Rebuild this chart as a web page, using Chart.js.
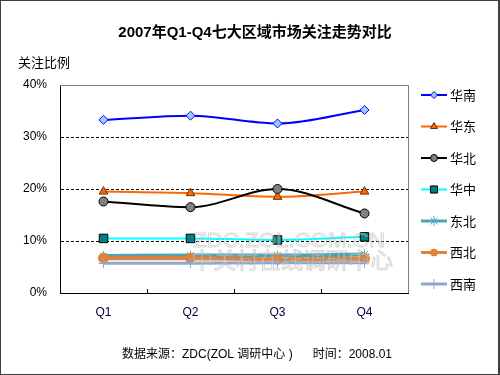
<!DOCTYPE html>
<html><head><meta charset="utf-8">
<script src="https://cdn.jsdelivr.net/npm/chart.js@4/dist/chart.umd.min.js"></script>
<style>html,body{margin:0;padding:0;background:#fff}#wrap{width:500px;height:375px;position:relative}</style>
</head><body><div id="wrap"><canvas id="c" width="500" height="375"></canvas></div>
<script>
const categories = ['Q1','Q2','Q3','Q4'];
const seriesNames = ['华南','华东','华北','华中','东北','西北','西南'];
const huanan = [33.3, 34.1, 32.6, 35.2];
const huadong = [19.5, 19.2, 18.5, 19.5];
const huabei = [17.6, 16.5, 20.0, 15.3];
const huazhong = [10.5, 10.5, 10.2, 10.8];
const dongbei = [7.1, 7.2, 7.2, 7.4];
const xibei = [6.7, 6.7, 6.5, 6.6];
const xinan = [5.7, 5.7, 5.8, 5.8];
const yTicks = [0, 10, 20, 30, 40];
const titleText = '2007年Q1-Q4七大区域市场关注走势对比';
const yTitle = '关注比例';
const footText = '数据来源：ZDC(ZOL 调研中心 )      时间：2008.01';
const watermark1 = 'ZDC.ZOL.COM.CN';
const watermark2 = '中关村在线调研中心';

const FONT = '"Liberation Sans", Arial, "Noto Sans CJK SC", sans-serif';
const styles = [
  {line:'#0000FF', w:2, pt:'rectRot', fill:'#99CCFF', border:'#0000FF', r:4.5, lr:3.5, lw:2},
  {line:'#FF6600', w:2, pt:'triangle', fill:'#FF6600', border:'#663300', r:5, lr:4, lw:2},
  {line:'#000000', w:2, pt:'circle', fill:'#808080', border:'#000000', r:4.5, lr:3.5, lw:2},
  {line:'#00FFFF', w:2, pt:'rect', fill:'#008080', border:'#000000', r:6, lr:5, lw:2},
  {line:'#4BA3B8', w:4, pt:'star', fill:'#4BACC6', border:'#4BACC6', r:5, lr:5, lw:3},
  {line:'#E0823A', w:4, pt:'circle', fill:'#E0823A', border:'#E0823A', r:5, lr:3.5, lw:3},
  {line:'#8EA9D0', w:3, pt:'cross', fill:'#8EA9D0', border:'#8EA9D0', r:5, lr:5, lw:3}
];
const values = [huanan, huadong, huabei, huazhong, dongbei, xibei, xinan];
const datasets = seriesNames.map((n,i)=>({
  label:n, data:values[i], borderColor:styles[i].line, borderWidth:styles[i].w,
  pointStyle:styles[i].pt, pointBackgroundColor:styles[i].fill, pointBorderColor:styles[i].border,
  pointBorderWidth:1, pointRadius:styles[i].r, pointHoverRadius:styles[i].r,
  cubicInterpolationMode:'monotone', fill:false, order: 10-i
}));

const deco = {
  id:'deco',
  afterDatasetsDraw(chart){
    const ctx = chart.ctx;
    ctx.save();
    ctx.setLineDash([]);
    ctx.lineWidth = 1;
    ctx.fillStyle = 'rgba(255,255,255,0.3)';
    ctx.strokeStyle = 'rgba(150,150,150,0.4)';
    ctx.textAlign = 'left'; ctx.textBaseline = 'middle';
    ctx.font = '22px "Liberation Sans", Arial, sans-serif';
    const w1 = ctx.measureText(watermark1).width;
    ctx.save(); ctx.translate(193, 241); ctx.scale(192 / w1, 0.95);
    ctx.fillText(watermark1, 0, 0); ctx.strokeText(watermark1, 0, 0); ctx.restore();
    ctx.font = '22px "Noto Sans CJK SC", sans-serif';
    const w2 = ctx.measureText(watermark2).width;
    ctx.save(); ctx.translate(191, 260); ctx.scale(202 / w2, 1);
    ctx.fillText(watermark2, 0, 0); ctx.strokeText(watermark2, 0, 0); ctx.restore();
    ctx.restore();
  },
  afterDraw(chart){
    const ctx = chart.ctx, a = chart.chartArea, xs = chart.scales.x;
    ctx.save();
    ctx.setLineDash([]);
    ctx.strokeStyle='#808080'; ctx.lineWidth=1;
    ctx.beginPath(); ctx.moveTo(a.left, a.top+0.5); ctx.lineTo(a.right+0.5, a.top+0.5); ctx.lineTo(a.right+0.5, a.bottom); ctx.stroke();
    ctx.strokeStyle='#000';
    for(let i=1;i<categories.length;i++){
      const x = Math.round((xs.getPixelForValue(i-1)+xs.getPixelForValue(i))/2)+0.5;
      ctx.beginPath(); ctx.moveTo(x, a.bottom); ctx.lineTo(x, a.bottom-4); ctx.stroke();
    }
    ctx.fillStyle='#000'; ctx.textBaseline='middle';
    ctx.font='bold 15px '+FONT; ctx.textAlign='center';
    ctx.fillText(titleText, 255, 33);
    ctx.font='13px '+FONT; ctx.textAlign='left';
    ctx.fillText(yTitle, 18, 63);
    ctx.font='12px '+FONT; ctx.textAlign='center';
    ctx.fillText(footText, 257, 355);
    chart.data.datasets.forEach((d,i)=>{
      const y = 95 + i*31.5;
      ctx.strokeStyle=d.borderColor; ctx.lineWidth=styles[i].lw;
      ctx.beginPath(); ctx.moveTo(421, y); ctx.lineTo(447, y); ctx.stroke();
      ctx.fillStyle=d.pointBackgroundColor; ctx.strokeStyle=d.pointBorderColor; ctx.lineWidth=1;
      Chart.helpers.drawPoint(ctx, {pointStyle:d.pointStyle, radius:styles[i].lr, borderWidth:1, rotation:0}, 434, y);
      ctx.fillStyle='#000'; ctx.font='13px '+FONT; ctx.textAlign='left';
      ctx.fillText(d.label, 450, y+1);
    });
    ctx.strokeStyle='#404040'; ctx.lineWidth=1;
    ctx.strokeRect(0.5,0.5,498,374);
    ctx.beginPath(); ctx.moveTo(499.5,0); ctx.lineTo(499.5,375); ctx.stroke();
    ctx.restore();
  }
};

new Chart(document.getElementById('c'), {
  type:'line',
  data:{labels:categories, datasets},
  options:{
    responsive:false, animation:false,
    layout:{padding:{left:0, top:85, right:92, bottom:52}},
    plugins:{legend:{display:false}, tooltip:{enabled:false}},
    scales:{
      x:{
        offset:true,
        grid:{display:false, drawTicks:false},
        border:{display:true, color:'#000', width:1},
        ticks:{color:'#000040', font:{size:12, family:FONT}, padding:12},
        afterFit(s){ s.height = 30; }
      },
      y:{
        min:0, max:40,
        afterBuildTicks(s){ s.ticks = yTicks.map(v=>({value:v})); },
        afterFit(s){ s.width = 60; },
        grid:{drawTicks:false, color:(c)=> (c.tick && (c.tick.value===10||c.tick.value===20||c.tick.value===30)) ? '#000' : 'rgba(0,0,0,0)', lineWidth:1},
        border:{display:true, color:'#000', width:1, dash:[3,2]},
        ticks:{color:'#000', font:{size:12, family:FONT}, padding:13, callback:v=>v+'%'}
      }
    }
  },
  plugins:[deco]
});
</script></body></html>
